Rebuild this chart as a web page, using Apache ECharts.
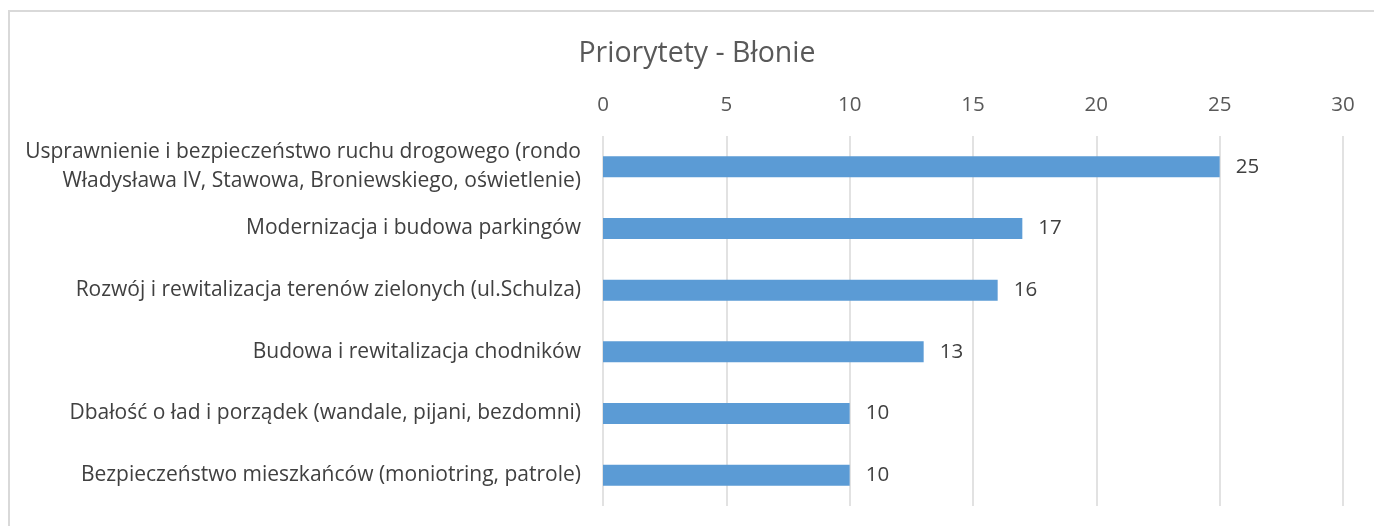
<!DOCTYPE html>
<html>
<head>
<meta charset="utf-8">
<script src="https://cdn.jsdelivr.net/npm/echarts@6/dist/echarts.min.js"></script>
<style>
html,body{margin:0;padding:0;background:#fff;}
#frame{position:absolute;left:8px;top:10px;width:1380px;height:530px;border:2px solid #d9d9d9;box-sizing:border-box;}
#chart{position:absolute;left:0;top:0;width:1374px;height:526px;}
</style>
</head>
<body>
<div id="frame"></div>
<div id="chart"></div>
<script>
// Categories listed top to bottom
const categories = [
  'Usprawnienie i bezpieczeństwo ruchu drogowego (rondo\nWładysława IV, Stawowa, Broniewskiego, oświetlenie)',
  'Modernizacja i budowa parkingów',
  'Rozwój i rewitalizacja terenów zielonych (ul.Schulza)',
  'Budowa i rewitalizacja chodników',
  'Dbałość o ład i porządek (wandale, pijani, bezdomni)',
  'Bezpieczeństwo mieszkańców (moniotring, patrole)'
];
const values = [25, 17, 16, 13, 10, 10];
const titleText = 'Priorytety - Błonie';

const font = 'Open Sans, Liberation Sans, sans-serif';
const chart = echarts.init(document.getElementById('chart'));
chart.setOption({
  animation: false,
  title: {
    text: titleText,
    left: 692,
    top: 34,
    textAlign: 'center',
    textStyle: { fontFamily: font, fontSize: 28.5, fontWeight: 'normal', color: '#595959' }
  },
  grid: { left: 603, right: 31, top: 136, bottom: 20, containLabel: false },
  xAxis: {
    type: 'value',
    position: 'top',
    min: 0, max: 30, interval: 5,
    axisLine: { show: false },
    axisTick: { show: false },
    axisLabel: { color: '#595959', fontFamily: font, fontSize: 20.5, margin: 20 },
    splitLine: { lineStyle: { color: '#d9d9d9', width: 1.5 } }
  },
  yAxis: {
    type: 'category',
    data: categories,
    inverse: true,
    axisLine: { show: false },
    axisTick: { show: false },
    axisLabel: { color: '#404040', fontFamily: font, fontSize: 21, margin: 22, align: 'right', lineHeight: 29 }
  },
  series: [{
    type: 'bar',
    data: values,
    barWidth: 21,
    itemStyle: { color: '#5b9bd5' },
    label: {
      show: true, position: 'right', distance: 16,
      color: '#404040', fontFamily: font, fontSize: 20.5
    }
  }]
});
</script>
</body>
</html>
